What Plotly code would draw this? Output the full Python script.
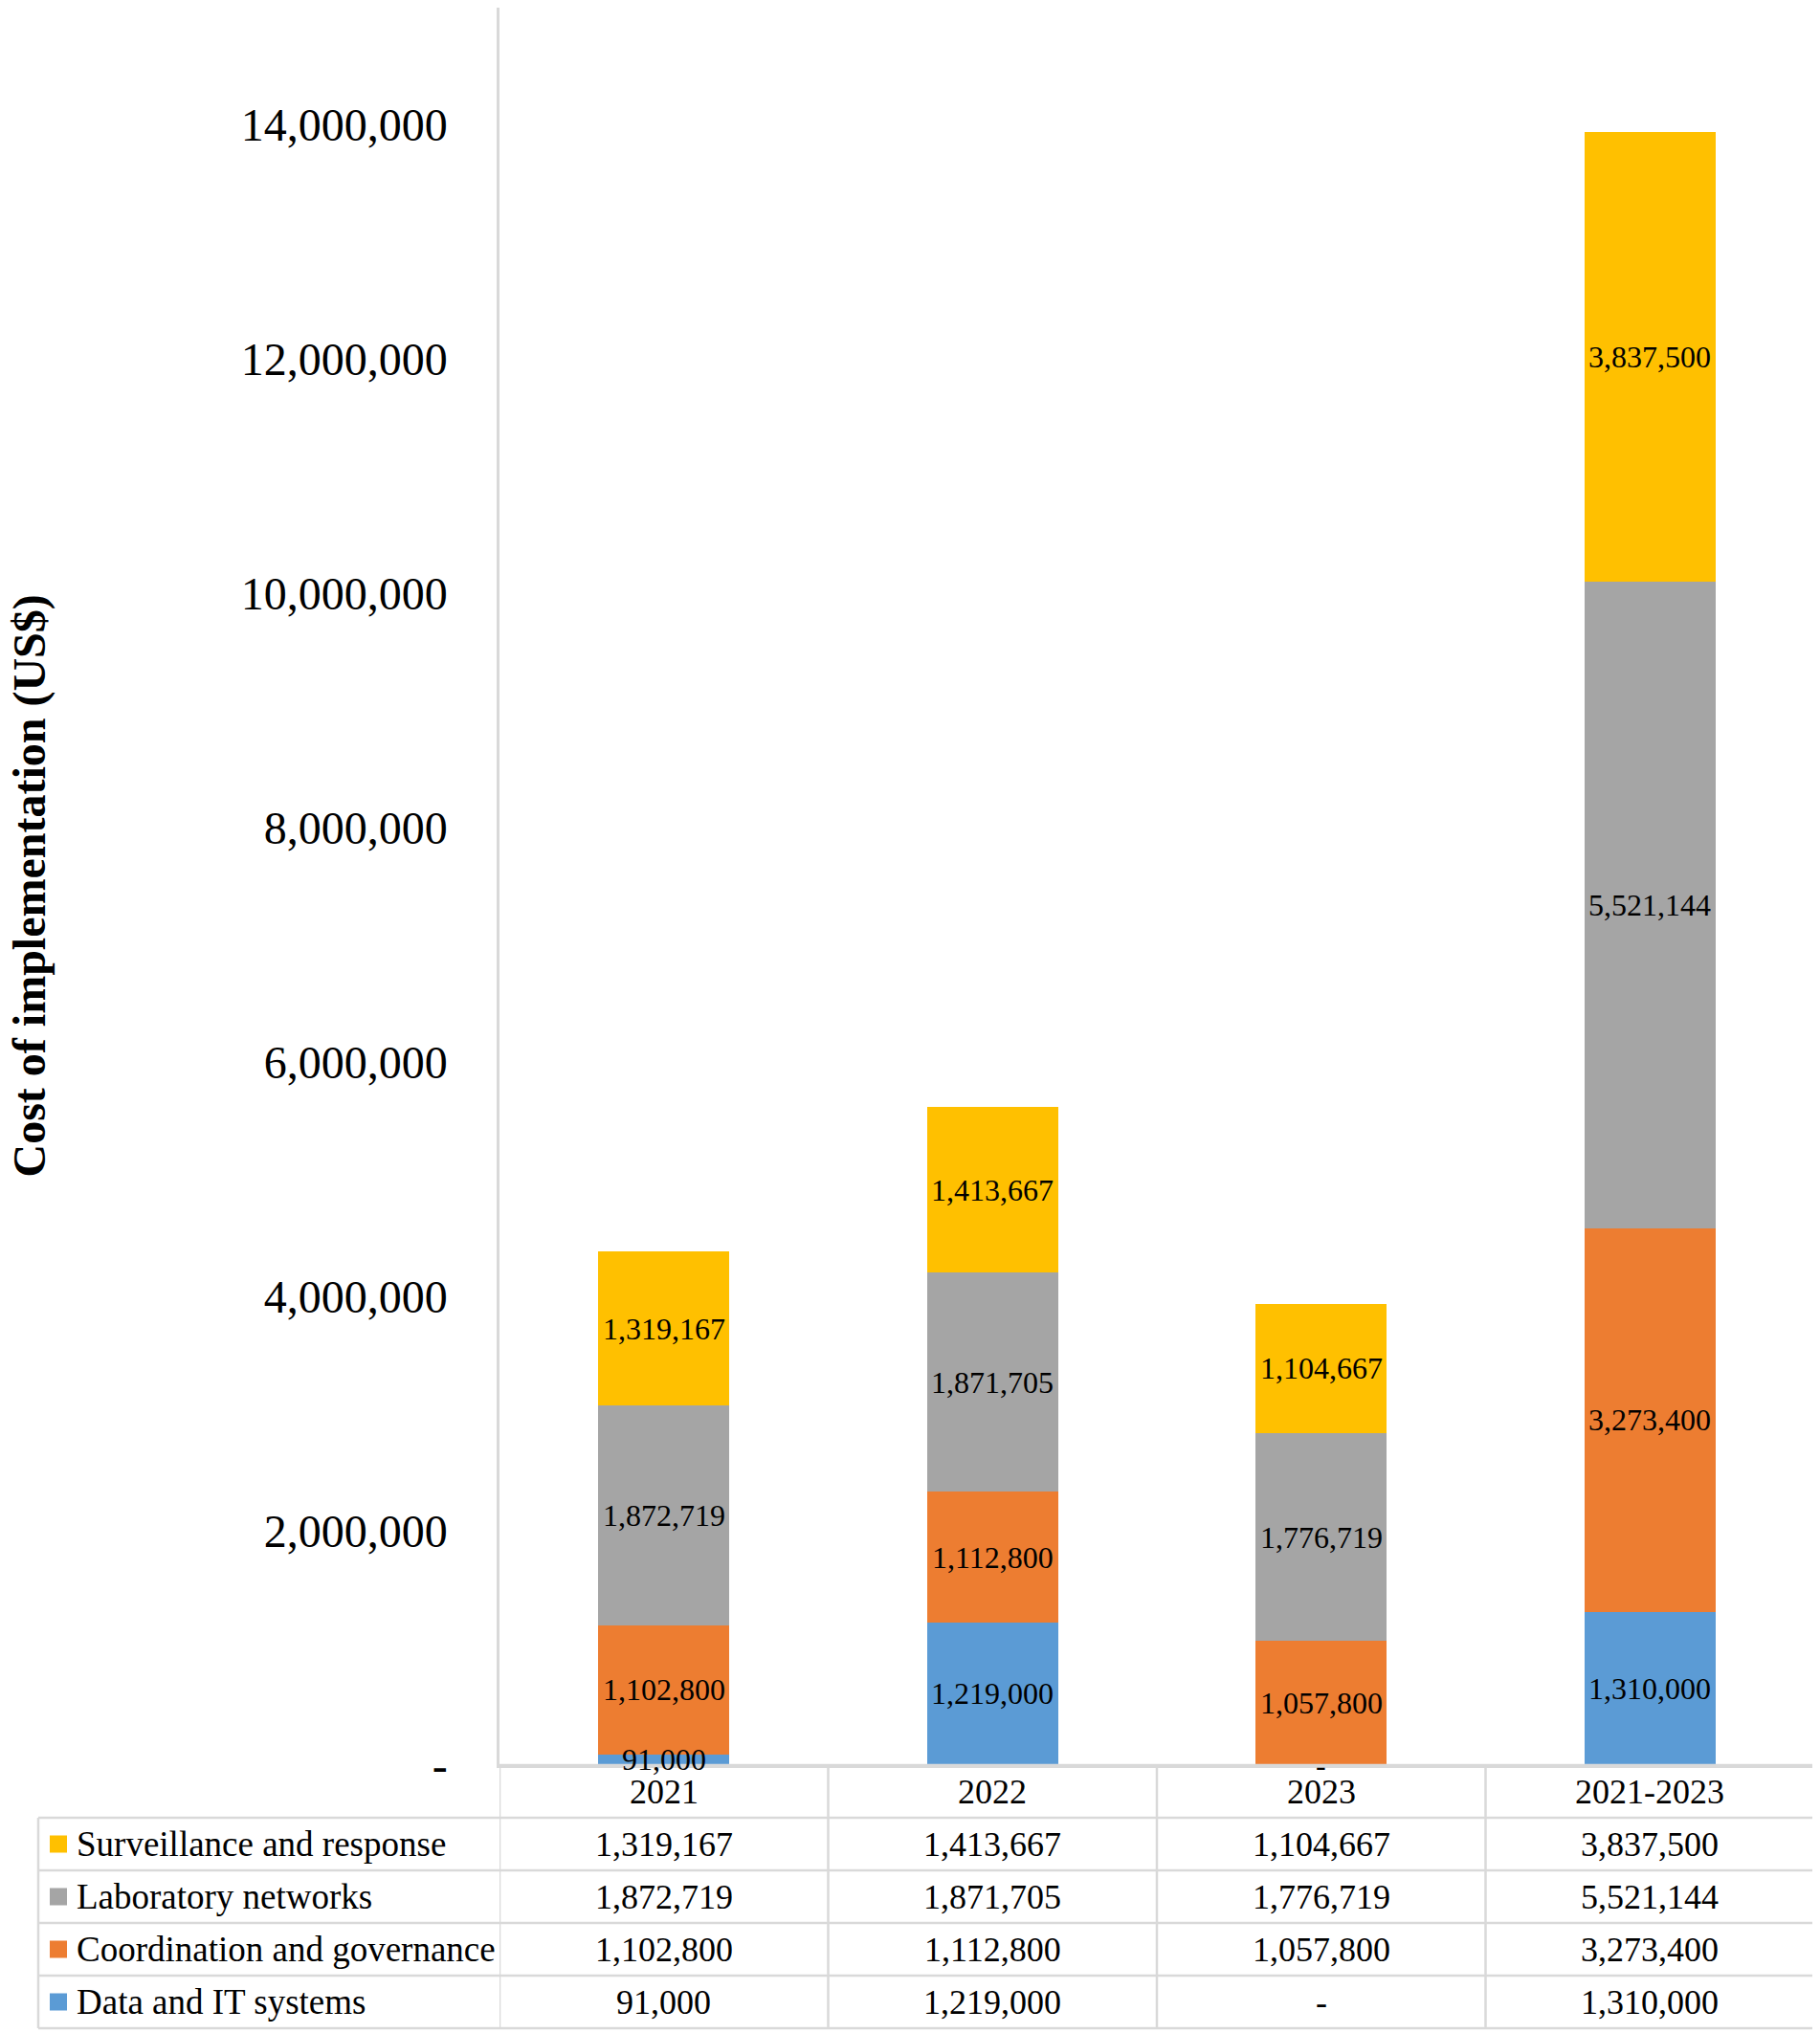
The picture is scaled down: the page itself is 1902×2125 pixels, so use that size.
import plotly.graph_objects as go

categories = ["2021", "2022", "2023", "2021-2023"]
series_names = [
    "Surveillance and response",
    "Laboratory networks",
    "Coordination and governance",
    "Data and IT systems",
]
surveillance = [1319167, 1413667, 1104667, 3837500]
laboratory = [1872719, 1871705, 1776719, 5521144]
coordination = [1102800, 1112800, 1057800, 3273400]
data_it = [91000, 1219000, 0, 1310000]
y_ticks = [0, 2000000, 4000000, 6000000, 8000000, 10000000, 12000000, 14000000]

colors = {
    "Surveillance and response": "#FFC000",
    "Laboratory networks": "#A5A5A5",
    "Coordination and governance": "#ED7D31",
    "Data and IT systems": "#5B9BD5",
}
values = {
    "Surveillance and response": surveillance,
    "Laboratory networks": laboratory,
    "Coordination and governance": coordination,
    "Data and IT systems": data_it,
}

FONT = "Liberation Serif"
GRID = "#D9D9D9"

# page has an 8px body margin, so the figure is a bit smaller than the window
W, H = 1894, 2117
M_L, M_R, M_T, M_B = 514, 6, 0, 280
PLOT_W = W - M_L - M_R
PLOT_H = H - M_T - M_B
ROW_H = 55
TABLE_LEFT = 32


def fmt(v):
    return f"{v:,}" if v else "-"


def px_x(p):
    return (p - M_L) / PLOT_W


def px_y(p):
    # p = pixels below the bottom of the plot area
    return -p / PLOT_H


fig = go.Figure()
shapes = []
annotations = []

# stacked bars, bottom segment first; labels as annotations at segment middles
# so that small segments (91,000) and empty ones (-) still show their value
base = [0] * len(categories)
for name in reversed(series_names):
    vals = values[name]
    fig.add_trace(go.Bar(
        x=categories,
        y=vals,
        name=name,
        marker_color=colors[name],
        marker_line_width=0,
        showlegend=False,
    ))
    for i, v in enumerate(vals):
        annotations.append(dict(xref="x", yref="y", x=i, y=base[i] + v / 2,
                                xanchor="center", yanchor="middle",
                                text=fmt(v), showarrow=False,
                                font=dict(family=FONT, size=32, color="black")))
        base[i] += v

# table grid: horizontal lines
shapes.append(dict(type="line", xref="paper", yref="paper",
                   x0=0, x1=1, y0=px_y(0), y1=px_y(0),
                   line=dict(color=GRID, width=2.5)))
for r in range(1, len(series_names) + 2):
    shapes.append(dict(type="line", xref="paper", yref="paper",
                       x0=px_x(TABLE_LEFT), x1=1,
                       y0=px_y(r * ROW_H), y1=px_y(r * ROW_H),
                       line=dict(color=GRID, width=2.5)))
# vertical lines between category columns
for i in range(len(categories)):
    shapes.append(dict(type="line", xref="x", yref="paper",
                       x0=i - 0.5, x1=i - 0.5,
                       y0=px_y(0), y1=px_y((len(series_names) + 1) * ROW_H),
                       line=dict(color=GRID, width=2.5)))
# left border of the table body
shapes.append(dict(type="line", xref="paper", yref="paper",
                   x0=px_x(TABLE_LEFT), x1=px_x(TABLE_LEFT),
                   y0=px_y(ROW_H), y1=px_y((len(series_names) + 1) * ROW_H),
                   line=dict(color=GRID, width=2.5)))

# header row: category names
for i, cat in enumerate(categories):
    annotations.append(dict(xref="x", yref="paper", x=i, y=px_y(ROW_H * 0.5),
                            xanchor="center", yanchor="middle", text=cat,
                            showarrow=False,
                            font=dict(family=FONT, size=36, color="black")))

# table rows: legend key, series name, values
for r, name in enumerate(series_names):
    yc = px_y(ROW_H * (r + 1.5))
    shapes.append(dict(type="rect", xref="paper", yref="paper",
                       x0=px_x(44), x1=px_x(62),
                       y0=yc - 9 / PLOT_H, y1=yc + 9 / PLOT_H,
                       fillcolor=colors[name], line_width=0))
    annotations.append(dict(xref="paper", yref="paper", x=px_x(70), y=yc,
                            xanchor="left", yanchor="middle", text=name,
                            showarrow=False,
                            font=dict(family=FONT, size=37, color="black")))
    for i, v in enumerate(values[name]):
        annotations.append(dict(xref="x", yref="paper", x=i, y=yc,
                                xanchor="center", yanchor="middle",
                                text=fmt(v), showarrow=False,
                                font=dict(family=FONT, size=36, color="black")))

# y axis title
annotations.append(dict(xref="paper", yref="paper", x=px_x(22), y=0.5,
                        xanchor="center", yanchor="middle", textangle=-90,
                        text="<b>Cost of implementation (US$)</b>",
                        showarrow=False,
                        font=dict(family=FONT, size=48, color="black")))

fig.update_layout(
    barmode="stack",
    bargap=0.6,
    width=W,
    height=H,
    margin=dict(l=M_L, r=M_R, t=M_T, b=M_B),
    plot_bgcolor="white",
    paper_bgcolor="white",
    font=dict(family=FONT, color="black"),
    shapes=shapes,
    annotations=annotations,
    xaxis=dict(
        type="category",
        range=[-0.5, len(categories) - 0.5],
        showline=True, linecolor=GRID, linewidth=2.5,
        showgrid=False, ticks="", showticklabels=False,
    ),
    yaxis=dict(
        range=[0, 15000000],
        tickvals=y_ticks,
        ticktext=[fmt(v) for v in y_ticks],
        showline=True, linecolor=GRID, linewidth=2.5,
        showgrid=False, zeroline=False, ticks="",
        tickfont=dict(family=FONT, size=48, color="black"),
        ticklabelstandoff=42,
    ),
)

fig.write_html("out.html")
